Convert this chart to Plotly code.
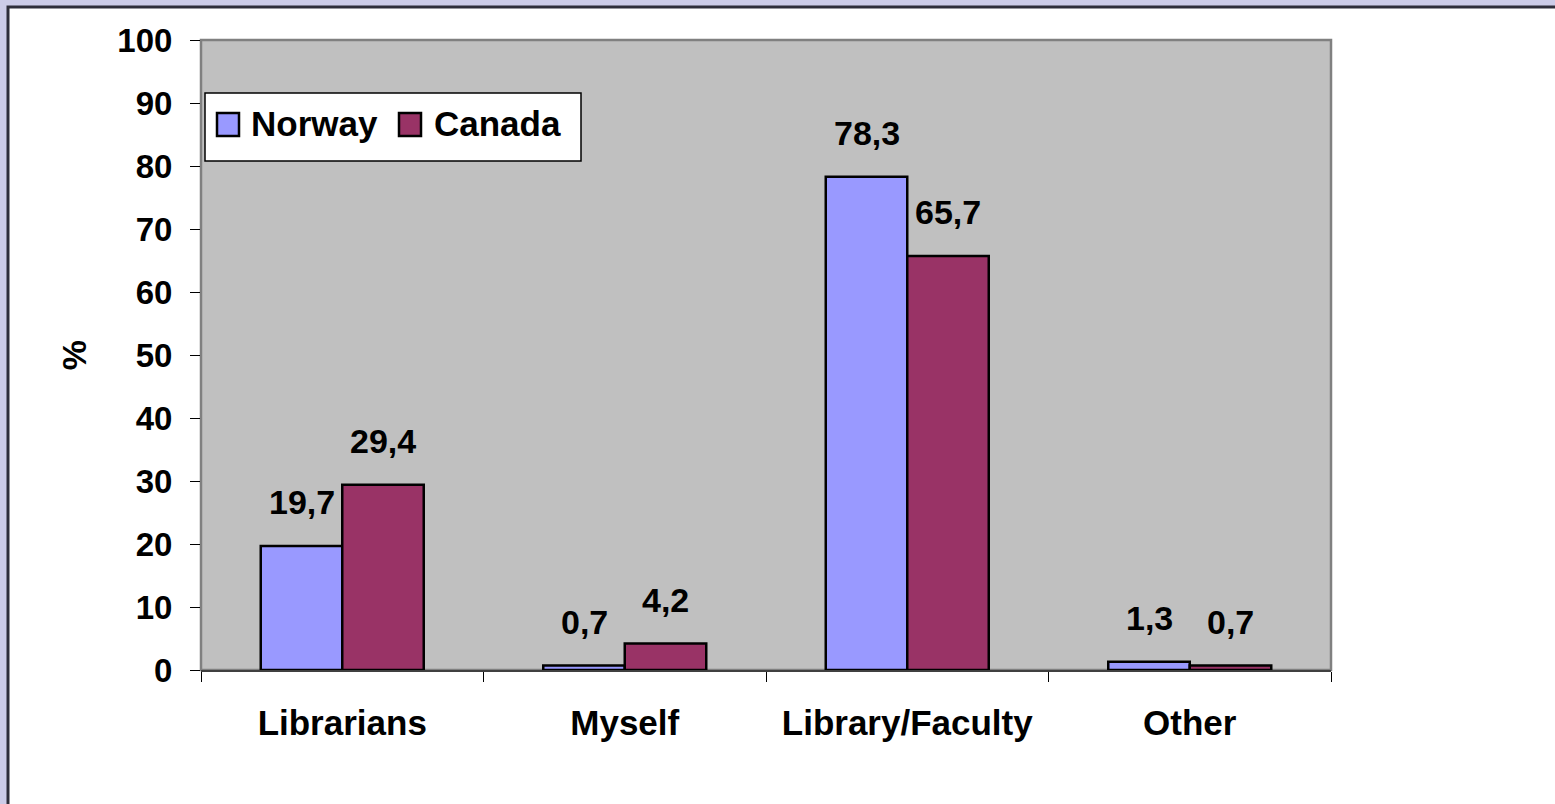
import plotly.graph_objects as go

categories = ["Librarians", "Myself", "Library/Faculty", "Other"]
norway = [19.7, 0.7, 78.3, 1.3]
canada = [29.4, 4.2, 65.7, 0.7]
series_names = ["Norway", "Canada"]
series_colors = ["#9999FF", "#993366"]
y_ticks = list(range(0, 101, 10))

FONT = "Liberation Sans, Arial, sans-serif"
W, H = 1555, 804
L, R, T, B = 201, 224, 40, 134
PW, PH = W - L - R, H - T - B


def px(x):
    return (x - L) / PW


def py(y):
    return (H - B - y) / PH


def fmt(v):
    return f"{v:.1f}".replace(".", ",")


fig = go.Figure()
for name, vals, color in zip(series_names, [norway, canada], series_colors):
    fig.add_trace(go.Bar(
        x=categories, y=vals, name=name, showlegend=False,
        marker=dict(color=color, line=dict(color="black", width=2.5)),
    ))

# data labels above each bar
annotations = []
for i, vals in enumerate([norway, canada]):
    shift = -40.75 if i == 0 else 40.75
    for c, v in zip(categories, vals):
        annotations.append(dict(
            x=c, y=v, xref="x", yref="y", text=fmt(v), showarrow=False,
            xshift=shift, yshift=44, yanchor="middle",
            font=dict(family=FONT, size=34, color="black", weight="bold"),
        ))

# outer panel, plot area and a hand drawn legend (big square swatches like the original)
shapes = [
    dict(type="rect", xref="paper", yref="paper", layer="below",
         x0=px(8), x1=px(1700), y0=py(7), y1=py(900),
         fillcolor="white", line=dict(color="#2E2E3A", width=3)),
    dict(type="rect", xref="paper", yref="paper", layer="below",
         x0=0, x1=1, y0=0, y1=1,
         fillcolor="#C0C0C0", line=dict(color="#808080", width=2.5)),
    dict(type="rect", xref="paper", yref="paper",
         x0=px(205), x1=px(581), y0=py(93), y1=py(161),
         fillcolor="white", line=dict(color="black", width=1.5)),
]
swatch_x = [217, 399]
text_x = [249, 432]
for name, color, sx, tx in zip(series_names, series_colors, swatch_x, text_x):
    shapes.append(dict(type="rect", xref="paper", yref="paper",
                       x0=px(sx), x1=px(sx + 22), y0=py(113), y1=py(136),
                       fillcolor=color, line=dict(color="black", width=2.5)))
    annotations.append(dict(x=px(tx), y=py(124), xref="paper", yref="paper",
                            text=name, showarrow=False, xanchor="left", yanchor="middle",
                            font=dict(family=FONT, size=35, color="black", weight="bold")))

fig.update_layout(
    width=W, height=H,
    margin=dict(l=L, r=R, t=T, b=B),
    paper_bgcolor="#CCCCE8", plot_bgcolor="rgba(0,0,0,0)",
    barmode="group", bargap=0.423, bargroupgap=0,
    shapes=shapes, annotations=annotations,
    font=dict(family=FONT, color="black"),
)
fig.update_xaxes(
    type="category", tickson="boundaries", ticks="outside", ticklen=10,
    tickcolor="black", tickwidth=1, showline=True, linecolor="#404040", linewidth=1.5,
    showgrid=False, ticklabelstandoff=21,
    tickfont=dict(family=FONT, size=35, color="black", weight="bold"),
)
fig.update_yaxes(
    range=[0, 100], tickvals=y_ticks, ticks="outside", ticklen=10,
    tickcolor="black", tickwidth=1, showline=False, showgrid=False, zeroline=False,
    ticklabelstandoff=11,
    tickfont=dict(family=FONT, size=33, color="black", weight="bold"),
    title=dict(text="%", standoff=20,
               font=dict(family=FONT, size=34, color="black", weight="bold")),
)

fig.write_html("out.html", config={"displayModeBar": False},
               post_script="document.body.style.margin = '0';")
